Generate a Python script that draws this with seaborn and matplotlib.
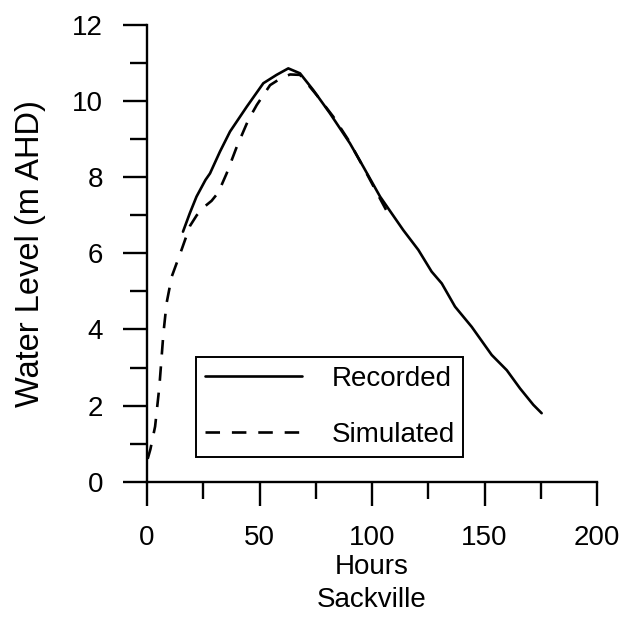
import matplotlib
matplotlib.use("Agg")
import matplotlib.pyplot as plt
import seaborn as sns
import pandas as pd

rec_hours = [16, 19, 22, 26, 28, 32.4, 36.9, 44.3, 51.7, 57.6, 62.8, 68, 73.9, 81.3,
             90.2, 96.1, 103.6, 113.9, 120.6, 126.5, 131, 136.9, 144.3, 153.2, 159.9,
             165.8, 171.7, 175.4]
rec_level = [6.57, 7.05, 7.49, 7.93, 8.10, 8.67, 9.20, 9.85, 10.47, 10.69, 10.86, 10.73,
             10.29, 9.68, 8.89, 8.28, 7.49, 6.61, 6.09, 5.52, 5.21, 4.60, 4.07, 3.33,
             2.93, 2.45, 2.02, 1.80]

sim_hours = [0.3, 1.5, 3.6, 5.5, 6.5, 7.3, 8.7, 11, 15.4, 19.1, 22.1, 25, 28.7, 31.7,
             35.4, 39.9, 45, 48.8, 54.7, 60, 63.6, 68, 75.4, 82.8, 89.5, 96, 103, 108]
sim_level = [0.6, 0.85, 1.45, 2.5, 3.28, 3.9, 4.69, 5.39, 6.1, 6.72, 7.0, 7.2, 7.38, 7.6,
             8.10, 8.80, 9.5, 9.9, 10.42, 10.62, 10.70, 10.69, 10.16, 9.59, 8.98, 8.28,
             7.5, 6.95]

x_ticks = [0, 50, 100, 150, 200]
y_ticks = [0, 2, 4, 6, 8, 10, 12]

sns.set_theme(style="ticks")
plt.rcParams["font.family"] = ["Liberation Sans", "DejaVu Sans"]
plt.rcParams["text.color"] = "black"

fig = plt.figure(figsize=(6.21, 6.25), dpi=100)
ax = fig.add_axes([147 / 621, 1 - 481.7 / 625, 450 / 621, 456.7 / 625])

rec = pd.DataFrame({"Hours": rec_hours, "Level": rec_level})
sim = pd.DataFrame({"Hours": sim_hours, "Level": sim_level})

sns.lineplot(data=rec, x="Hours", y="Level", ax=ax, color="black", linewidth=1.9,
             label="Recorded")
sns.lineplot(data=sim, x="Hours", y="Level", ax=ax, color="black", linewidth=1.9,
             linestyle=(0, (5.5, 4.5)), label="Simulated")

ax.set_xlim(0, 200)
ax.set_ylim(0, 12)
ax.set_xticks(x_ticks)
ax.set_yticks(y_ticks)
ax.set_xticks([25, 75, 125, 175], minor=True)
ax.set_yticks([1, 3, 5, 7, 9, 11], minor=True)
ax.set_xticklabels([str(t) for t in x_ticks])
ax.set_yticklabels([str(t) for t in y_ticks])

for side in ["top", "right"]:
    ax.spines[side].set_visible(False)
for side in ["left", "bottom"]:
    ax.spines[side].set_linewidth(1.7)
    ax.spines[side].set_color("black")

ax.tick_params(axis="both", which="major", direction="out", length=17.5, width=1.7,
               color="black", labelsize=20, pad=14, labelcolor="black")
ax.tick_params(axis="both", which="minor", direction="out", length=12, width=1.7,
               color="black")

ax.set_xlabel("Hours\nSackville", fontsize=20, labelpad=2, linespacing=1.35,
              color="black")
ax.set_ylabel("Water Level (m AHD)", fontsize=23.5, labelpad=19, color="black")

leg = ax.legend(loc="lower left", bbox_to_anchor=(0.109, 0.054), borderaxespad=0,
                fontsize=20, frameon=True, fancybox=False, shadow=False,
                handlelength=3.5, handletextpad=1.05, labelspacing=1.1,
                borderpad=0.32)
leg.get_frame().set_edgecolor("black")
leg.get_frame().set_linewidth(1.4)
leg.get_frame().set_facecolor("white")
leg.get_frame().set_alpha(1)
for t in leg.get_texts():
    t.set_color("black")

ax.set_facecolor("white")
fig.patch.set_facecolor("white")
fig.savefig("out.png", dpi=100)
